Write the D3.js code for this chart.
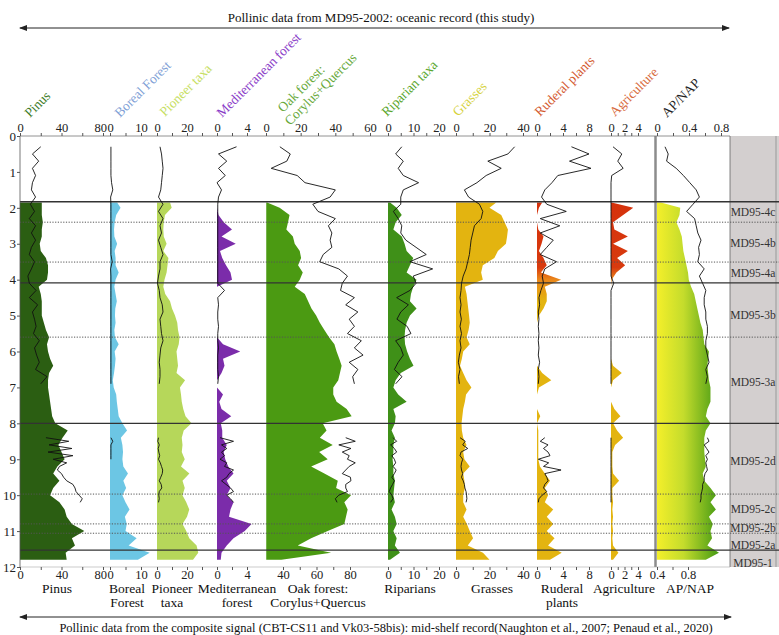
<!DOCTYPE html>
<html>
<head>
<meta charset="utf-8">
<script src="https://cdn.jsdelivr.net/npm/d3@7"></script>
<style>
  body { margin: 0; background: #fff; }
  svg { display: block; }
  text { font-family: "Liberation Serif", "DejaVu Serif", "Times New Roman", serif; }
</style>
</head>
<body>
<svg id="chart"></svg>
<script>
// depth axis (ka) and zones
const depthTicks = [0, 1, 2, 3, 4, 5, 6, 7, 8, 9, 10, 11, 12];
const zoneSolid = [1.83, 4.09, 8.0, 11.53];
const zoneDotted = [2.4, 3.51, 5.6, 9.97, 10.8, 11.06];
const zoneNames = ["MD95-4c", "MD95-4b", "MD95-4a", "MD95-3b", "MD95-3a", "MD95-2d", "MD95-2c", "MD95-2b", "MD95-2a", "MD95-1"];
const zoneLabelDepth = [2.12, 2.98, 3.82, 4.99, 6.85, 9.05, 10.39, 10.92, 11.39, 11.89];

// composite (mid-shelf) record: filled curves
const shelfDepth = [1.85, 2.0, 2.2, 2.4, 2.6, 2.8, 3.0, 3.2, 3.4, 3.6, 3.8, 4.0, 4.2, 4.4, 4.6, 4.8, 5.0, 5.2, 5.4, 5.6,
  5.8, 6.0, 6.2, 6.4, 6.6, 6.8, 7.0, 7.2, 7.4, 7.6, 7.8, 8.0, 8.2, 8.4, 8.6, 8.8, 9.0, 9.2, 9.4, 9.6,
  9.8, 10.0, 10.2, 10.4, 10.6, 10.8, 11.0, 11.2, 11.4, 11.6, 11.8];
const pinusShelf = [21, 21, 21, 22, 21, 21, 19, 20, 25, 27, 27, 26, 18, 20, 21, 21, 21, 23, 25, 28,
  26, 27, 29, 32, 28, 27, 27, 28, 29, 30, 31, 34, 46, 41, 37, 40, 43, 36, 32, 38,
  32, 29, 38, 43, 45, 50, 62, 50, 53, 44, 45];
const borealShelf = [2.3, 3.4, 2.0, 1.5, 1.3, 1.4, 2.3, 1.5, 1.8, 1.8, 2.8, 1.8, 1.4, 1.8, 2.2, 1.7, 1.6, 1.8, 1.4, 1.6,
  2.8, 1.5, 1.8, 1.6, 1.3, 0.9, 1.2, 2.0, 2.2, 2.5, 2.8, 4.0, 5.5, 3.5, 4.0, 4.2, 4.0, 4.3, 5.8, 4.3,
  5.2, 4.0, 5.0, 6.3, 4.8, 5.4, 5.0, 8.6, 6.0, 12.8, 9.0];
const pioneerShelf = [8.7, 9.8, 5.3, 4.5, 4.2, 4.5, 6.4, 4.2, 7.6, 7.0, 6.4, 5.0, 4.2, 5.5, 8.7, 10, 12, 13.5, 14, 15,
  14.5, 13, 13.5, 14, 13, 18.7, 15.3, 16, 16.5, 17.5, 19, 23, 17.8, 16.5, 17, 16.5, 18.5, 16, 21.6, 17,
  18.5, 17, 19.5, 21.5, 20, 17, 19.5, 21.5, 26.4, 27.5, 24];
const medShelf = [0, 0, 0.2, 0.9, 2.0, 0.6, 2.5, 0.4, 0.7, 1.2, 1.8, 2.0, 0, 0, 0, 0, 0, 0, 0, 0,
  0.8, 3.1, 0.8, 1.0, 0.6, 0, 0, 0.8, 0.3, 0.6, 1.9, 0.5, 0.7, 0.7, 1.3, 0.9, 1.1, 1.5, 2.2, 1.3,
  1.8, 1.3, 2.2, 1.8, 1.6, 4.6, 3.7, 2.2, 1.3, 0.6, 0.5];
const oakShelf = [30.5, 38, 43.9, 43, 42, 45.9, 47, 50, 50.8, 49, 51.8, 50, 47, 53, 55, 57, 59.8, 62, 64.7, 67.5,
  70.7, 72, 73.6, 75, 74, 73, 70, 70, 72, 78, 81, 63.7, 66, 62, 69.7, 61.6, 66.7, 56.8, 64.7, 72.7,
  71.7, 80.6, 76.6, 78.6, 77.6, 76.6, 66.7, 56.8, 48.8, 68.7, 39];
const ripShelf = [0.8, 3.4, 5.4, 3.0, 2.1, 5.4, 6.5, 7.3, 9.9, 8.6, 7.3, 11.2, 9.9, 9.0, 8.6, 11.2, 8.6, 7.3, 6.7, 6.5,
  6.7, 7.5, 8.6, 10, 5, 3.0, 2.1, 4, 7.3, 2.1, 3.0, 2.7, 1.4, 2.7, 2.1, 2.1, 1.8, 2.1, 2.1, 2.7,
  2.4, 2.1, 2.7, 1.4, 2.7, 3.4, 2.1, 3.4, 2.7, 4.7, 0.8];
const grassShelf = [24, 20, 27, 29, 31, 30.5, 29.8, 25, 22.9, 16, 15, 16, 5.3, 6.3, 6.8, 7.3, 7.8, 8.2, 7.5, 6.3,
  8.2, 4.3, 3.5, 2.4, 4.3, 6.3, 9.2, 6, 5.3, 4.3, 3.8, 3.3, 3.5, 4.3, 6.3, 4.3, 5.0, 8.2, 4.3, 5.0,
  5.3, 4.3, 4.3, 6.3, 4.3, 6.5, 8.2, 10.2, 7, 16.1, 20];
const rudShelf = [0.8, 0.3, 0, 0, 0.2, 1.0, 0.7, 0.3, 1.0, 1.5, 0.6, 3.7, 1.2, 1.5, 1.5, 1.0, 0.3, 0, 0, 0,
  0, 0, 0, 0, 0.8, 2.2, 0.3, 0, 0, 0, 0.5, 0, 0.2, 0.2, 0.2, 0.2, 0.2, 0.45, 1.2, 2.0,
  1.2, 1.7, 1.2, 2.5, 1.5, 2.5, 1.5, 2.7, 1.7, 3.8, 2.0];
const agrShelf = [0.1, 3.3, 1.8, 0.3, 0.5, 2.5, 0.3, 2.5, 0.9, 2.1, 0.8, 0.1, 0, 0, 0, 0, 0, 0, 0, 0,
  0, 0, 0, 0.3, 1.6, 0.3, 0, 0, 0, 0.5, 1.4, 0.3, 0.9, 1.8, 0.6, 0.2, 0.2, 0.2, 0.3, 1.2,
  0.2, 0.2, 0.3, 0.2, 0.3, 0.2, 0.3, 0.2, 0.3, 1.1, 0.3];
const apShelf = [0.45, 0.7, 0.69, 0.65, 0.69, 0.72, 0.73, 0.74, 0.76, 0.78, 0.8, 0.81, 0.84, 0.88, 0.9, 0.92, 0.94, 0.96, 0.99, 1.0,
  1.01, 1.07, 1.06, 1.05, 1.06, 1.07, 1.09, 1.09, 1.09, 1.05, 1.03, 1.09, 1.03, 1.01, 1.01, 1.01, 1.02, 1.03, 0.99, 1.01,
  1.09, 1.16, 1.09, 1.16, 1.07, 1.12, 1.09, 1.11, 1.05, 1.2, 1.03];

// MD95-2002 oceanic record: black curves (null = no samples)
const oceanDepth = [0.3, 0.5, 0.7, 0.9, 1.1, 1.3, 1.5, 1.7, 1.9, 2.1, 2.3, 2.5, 2.7, 2.9, 3.1, 3.3, 3.5, 3.7, 3.9, 4.1,
  4.3, 4.5, 4.7, 4.9, 5.1, 5.3, 5.5, 5.7, 5.9, 6.1, 6.3, 6.5, 6.7, 6.9, 7.7,
  8.4, 8.5, 8.6, 8.7, 8.8, 8.9, 9.0, 9.1, 9.2, 9.3, 9.4, 9.5, 9.6, 9.7, 9.8, 9.9, 10.0, 10.1, 10.2];
const pinusOcean = [20, 12, 18, 12, 15, 12, 11, 15, 10, 14, 9, 15, 11, 15, 11, 9, 14, 11, 7.6, 9,
  15.5, 9, 17, 12, 14, 15.5, 13, 18.6, 14, 16, 18.6, 15, 26, 20, null,
  25, 47, 28, 50, 27, 51, 32, 45, 38, 36, 40, 42, 45, 51, 53, 54, 57, 60, 58];
const borealOcean = [0.3, 0.3, 0.3, 0.3, 0.3, 0.5, 0.9, 0.2, 0.3, 0.3, 0.3, 0.3, 0.3, 0.3, 0.3, 0.3, 0.7, 0.2, 0.3, 0.3,
  0.3, 0.3, 0.3, 0.3, 0.3, 0.3, 0.3, 0.3, 0.3, 0.3, 0.3, 0.3, 0.3, 0.3, null,
  0.3, 0.9, 0.3, 0.3, 0.3, 0.3, 0.3, null, null, null, null, null, null, null, null, null, null, null, null];
const pioneerOcean = [2, 3, 3.5, 4, 3.5, 3, 2.5, 1, 4, 1, 4, 2, 3, 1, 2.5, 4, 2, 2, 1, 0.3,
  1.5, 2, 3.5, 4, 2, 2.5, 3, 4, 2.5, 2, 1.5, 2, 2, 1.5, null,
  1, 0.5, 1.5, 0.8, 1.2, 1.8, 1, 2.2, 3, 3.8, 3.5, 2.5, 1.5, 2.8, 3.2, 1.5, 1.2, 1.5, 1];
const medOcean = [2.6, 0.2, 1.3, 0.2, 1.1, 0, 0.6, 0.2, 0.1, 0.1, 0.1, 0.1, 0.1, 0.1, 0.1, 0.1, 0.1, 0.1, 0.1, 0.1,
  1.0, 0.1, 0.2, 0.1, 0.1, 0.2, 0.1, 0.1, 0.2, 0.1, 0.1, 0.1, 0.2, 0.1, null,
  0.4, 2.2, 0.6, 1.3, 0.6, 1.0, 0.4, 1.3, 1.0, 2.2, 1.6, 1.3, 0.6, 1.2, 1.8, 2.2, 1.3, 1.8, 2.2];
const oakOcean = [8, 14, 12, 3, 18, 22.5, 40, 37, 27, 30, 40, 36, 38, 37, 38, 33, 31, 42, 47, 44,
  43, 51, 46, 53, 48, 51, 47, 55, 51, 56, 48, 53, 50, 51, null,
  46, 51.5, 42, 49, 44, 48, 47, 51.5, 48, 46, 44, 48.7, 49, 46, 46, 47, 42, 40, 41];
const ripOcean = [5.4, 3, 6, 4, 6, 12, 6, 5, 5, 2.1, 4, 5.4, 5, 7, 11, 15, 8.6, 17.5, 9.9, 11,
  8.6, 3.4, 8, 5, 3.5, 7.5, 9, 3, 5, 6, 4, 2.5, 5.5, 3, null,
  2, 3.4, 1, 2.5, 3.4, 1.5, 2.5, 3, 2, 3.2, 2.5, 1.5, 2.5, 1.8, 1, 0.5, 1.5, 2, 1];
const grassOcean = [35, 31, 19, 27, 18, 12.5, 5, 7.5, 14, 16, 15, 11, 10, 9, 8.5, 8, 7, 6, 4.3, 3.3,
  3, 2.4, 3, 2.4, 3.2, 2.4, 3.3, 2.4, 3, 2, 1.4, 2.4, 1.5, 2, null,
  2.4, 5.5, 4, 7, 3, 2.4, 4, 3.3, 3, 3.3, 4, 3.3, 4.3, 5, 5.3, 6, 6.3, 6.5, 6];
const rudOcean = [5.3, 8, 5, 8.3, 3.2, 2.3, 1.2, 0.7, 1.5, 4.5, 0.5, 3.5, 0.5, 2.5, 1.5, 0.5, 3, 1.2, 0.8, 1.0,
  0.6, 0.3, 0.4, 0.2, 0.3, 0.2, 0.3, 0.2, 0.3, 0.2, 0.4, 0.2, 0.3, 0.2, null,
  1.2, 0.5, 1.7, 1.0, 1.7, 2.0, 0.2, 1.8, 1.0, 3.7, 1.2, 1.5, 1.7, 1.2, 1.0, 1.5, 0.8, 0.3, 0.2];
const agrOcean = [0.3, 1.6, 1.0, 1.8, 0.1, 0, 0, 0, 0, 0, 0, 0, 0, 0, 0, 0, 0, 0, 0, 0.4,
  0, 0, 0, 0, 0, 0, 0, 0, 0, 0, 0, 0, 0, 0, null,
  0, 0, 0, 0, 0, 0, 0, 0, 0, 0, 0, 0, 0, 0, 0, 0, 0, 0, 0];
const apOcean = [0.1, 0.14, 0.12, 0.24, 0.33, 0.41, 0.49, 0.53, 0.45, 0.37, 0.47, 0.49, 0.51, 0.55, 0.52, 0.53, 0.51, 0.59, 0.53, 0.57,
  0.61, 0.59, 0.59, 0.61, 0.61, 0.63, 0.63, 0.61, 0.61, 0.63, 0.65, 0.61, 0.63, 0.61, null,
  0.63, 0.65, 0.59, 0.62, 0.65, 0.61, 0.63, 0.61, 0.62, 0.63, 0.6, 0.59, 0.59, 0.57, 0.57, 0.56, 0.55, 0.55, 0.54];

const width = 779, height = 635;
const svg = d3.select("#chart").attr("width", width).attr("height", height);
const y = d3.scaleLinear().domain([0, 12]).range([136, 567]);

// panel layout: top scale = black curve, bottom scale = filled curve
const panels = [
  { top: [0, 80], tr: [20, 103], tt: [0, 20, 40, 60, 80], tl: [0, 40, 80], bot: [0, 80], br: [20, 103], bt: [0, 20, 40, 60, 80], bl: [0, 40, 80], base: 0,
    shelf: pinusShelf, ocean: pinusOcean, fill: "#2b5e12", title: ["Pinus"], tcol: "#3b7a26", tpos: [[30, 118]], label: ["Pinus"], lx: 57 },
  { top: [0, 10], tr: [110, 141], tt: [0, 5, 10], tl: [0, 10], bot: [0, 10], br: [110, 141], bt: [0, 5, 10], bl: [0, 10], base: 0,
    shelf: borealShelf, ocean: borealOcean, fill: "#6cc6e4", title: ["Boreal Forest"], tcol: "#7f9fd6", tpos: [[120, 118]], label: ["Boreal", "Forest"], lx: 127 },
  { top: [0, 20], tr: [157, 187], tt: [0, 10, 20, 30], tl: [0, 20], bot: [0, 20], br: [157, 187], bt: [0, 10, 20, 30], bl: [0, 20], base: 0,
    shelf: pioneerShelf, ocean: pioneerOcean, fill: "#b6d75a", title: ["Pioneer taxa"], tcol: "#c6de62", tpos: [[165, 117]], label: ["Pioneer", "taxa"], lx: 172 },
  { top: [0, 4], tr: [217, 247], tt: [0, 2, 4], tl: [0, 4], bot: [0, 4], br: [217, 247], bt: [0, 2, 4], bl: [0, 4], base: 0,
    shelf: medShelf, ocean: medOcean, fill: "#7b2caa", title: ["Mediterranean forest"], tcol: "#8a3cc8", tpos: [[222, 118]], label: ["Mediterranean", "forest"], lx: 237 },
  { top: [0, 60], tr: [266, 370], tt: [0, 10, 20, 30, 40, 50, 60], tl: [0, 20, 40, 60], bot: [40, 80], br: [283, 350], bt: [40, 50, 60, 70, 80], bl: [40, 60, 80], base: 30,
    shelf: oakShelf, ocean: oakOcean, fill: "#4b9a12", title: ["Oak forest:", "Corylus+Quercus"], tcol: "#67a83a", tpos: [[283, 113], [290, 126]], label: ["Oak forest:", "Corylus+Quercus"], lx: 318 },
  { top: [0, 20], tr: [388, 439], tt: [0, 5, 10, 15, 20], tl: [0, 10, 20], bot: [0, 20], br: [388, 439], bt: [0, 5, 10, 15, 20], bl: [0, 10, 20], base: 0,
    shelf: ripShelf, ocean: ripOcean, fill: "#3f9018", title: ["Riparian taxa"], tcol: "#5aa62c", tpos: [[387, 117]], label: ["Riparians"], lx: 410 },
  { top: [0, 40], tr: [456, 523], tt: [0, 10, 20, 30, 40], tl: [0, 20, 40], bot: [0, 40], br: [456, 523], bt: [0, 10, 20, 30, 40], bl: [0, 20, 40], base: 0,
    shelf: grassShelf, ocean: grassOcean, fill: "#e3b410", title: ["Grasses"], tcol: "#d6d23c", tpos: [[458, 117]], label: ["Grasses"], lx: 492 },
  { top: [0, 8], tr: [537, 589], tt: [0, 2, 4, 6, 8], tl: [0, 4, 8], bot: [0, 8], br: [537, 589], bt: [0, 2, 4, 6, 8], bl: [0, 4, 8], base: 0,
    shelf: rudShelf, ocean: rudOcean, fill: "url(#redGold)", title: ["Ruderal plants"], tcol: "#d45a30", tpos: [[540, 117]], label: ["Ruderal", "plants"], lx: 562 },
  { top: [0, 4], tr: [611, 638], tt: [0, 1, 2, 3, 4], tl: [0, 2, 4], bot: [0, 4], br: [611, 638], bt: [0, 1, 2, 3, 4], bl: [0, 2, 4], base: 0,
    shelf: agrShelf, ocean: agrOcean, fill: "url(#redGold)", title: ["Agriculture"], tcol: "#d86a3c", tpos: [[615, 117]], label: ["Agriculture"], lx: 624 },
  { top: [0, 0.8], tr: [657, 721], tt: [0, 0.2, 0.4, 0.6, 0.8], tl: [0, 0.4, 0.8], bot: [0.4, 0.8], br: [657, 688], bt: [0.4, 0.6, 0.8], bl: [0.4, 0.8], base: 0.4,
    shelf: apShelf, ocean: apOcean, fill: "url(#apGrad)", title: ["AP/NAP"], tcol: "#222", tpos: [[667, 118]], label: ["AP/NAP"], lx: 690 }
];
panels.forEach(p => {
  p.xt = d3.scaleLinear().domain(p.top).range(p.tr);
  p.xb = d3.scaleLinear().domain(p.bot).range(p.br);
});

// gradients and arrow marker
const defs = svg.append("defs");
const rg = defs.append("linearGradient").attr("id", "redGold").attr("gradientUnits", "userSpaceOnUse")
  .attr("x1", 0).attr("x2", 0).attr("y1", y(1.83)).attr("y2", y(4.6));
rg.selectAll("stop").data([[0, "#d5320c"], [0.66, "#d83a0e"], [0.78, "#ea861a"], [1, "#e3b410"]])
  .enter().append("stop").attr("offset", d => d[0]).attr("stop-color", d => d[1]);
const ag = defs.append("linearGradient").attr("id", "apGrad").attr("gradientUnits", "userSpaceOnUse")
  .attr("x1", 657).attr("x2", 716).attr("y1", 0).attr("y2", 0);
ag.selectAll("stop").data([[0, "#f4ef2a"], [0.45, "#c4dc2c"], [1, "#4f9f16"]])
  .enter().append("stop").attr("offset", d => d[0]).attr("stop-color", d => d[1]);
defs.append("marker").attr("id", "arr").attr("viewBox", "0 0 8 6").attr("refX", 7).attr("refY", 3)
  .attr("markerWidth", 8).attr("markerHeight", 6).attr("markerUnits", "userSpaceOnUse")
  .attr("orient", "auto-start-reverse")
  .append("path").attr("d", "M0,0L8,3L0,6Z").attr("fill", "#222");

// zone column
svg.append("rect").attr("x", 730).attr("y", y(0)).attr("width", 49).attr("height", y(12) - y(0)).attr("fill", "#d3cfcf");
svg.append("line").attr("x1", 776).attr("x2", 776).attr("y1", y(0)).attr("y2", y(12)).attr("stroke", "#999").attr("stroke-width", 1);
svg.append("line").attr("x1", 730).attr("x2", 730).attr("y1", y(0)).attr("y2", y(12)).attr("stroke", "#666").attr("stroke-width", 0.8);

// filled curves
panels.forEach(p => {
  const area = d3.area()
    .y((v, i) => y(shelfDepth[i]))
    .x0(p.xb(p.base))
    .x1(v => p.xb(v));
  svg.append("path").datum(p.shelf).attr("d", area).attr("fill", p.fill);
});

// AP/NAP separator
svg.append("line").attr("x1", 655.5).attr("x2", 655.5).attr("y1", y(0)).attr("y2", y(12))
  .attr("stroke", "#8c8c8c").attr("stroke-width", 2.5);

// zone boundaries
svg.selectAll(".solid").data(zoneSolid).enter().append("line")
  .attr("x1", 20).attr("x2", 779).attr("y1", d => y(d)).attr("y2", d => y(d))
  .attr("stroke", "#333").attr("stroke-width", 1.3);
svg.selectAll(".dotted").data(zoneDotted).enter().append("line")
  .attr("x1", 20).attr("x2", 779).attr("y1", d => y(d)).attr("y2", d => y(d))
  .attr("stroke", "#555").attr("stroke-width", 1).attr("stroke-dasharray", "1.2,1.5");

// black curves
panels.forEach(p => {
  const line = d3.line()
    .defined(v => v != null)
    .x(v => p.xt(v))
    .y((v, i) => y(oceanDepth[i]));
  svg.append("path").datum(p.ocean).attr("d", line)
    .attr("fill", "none").attr("stroke", "#111").attr("stroke-width", 0.9);
});

// zone labels
svg.selectAll(".zone").data(zoneNames).enter().append("text")
  .attr("x", 753).attr("y", (d, i) => y(zoneLabelDepth[i]))
  .attr("text-anchor", "middle").attr("dominant-baseline", "central")
  .attr("font-size", 11.5).attr("fill", "#333").text(d => d);

// depth axis
svg.append("line").attr("x1", 20).attr("x2", 20).attr("y1", y(0)).attr("y2", y(12)).attr("stroke", "#555").attr("stroke-width", 0.8);
const yAxis = svg.append("g").attr("transform", "translate(20,0)")
  .call(d3.axisLeft(y).tickValues(depthTicks).tickSize(3).tickPadding(1).tickFormat(d3.format("d")));
yAxis.select(".domain").remove();
yAxis.selectAll("text").attr("font-size", 13).attr("fill", "#222");
yAxis.selectAll("line").attr("stroke", "#555");

// top and bottom value axes
svg.append("line").attr("x1", 20).attr("x2", 730).attr("y1", 136).attr("y2", 136).attr("stroke", "#777").attr("stroke-width", 0.8);
svg.append("line").attr("x1", 20).attr("x2", 730).attr("y1", 567).attr("y2", 567).attr("stroke", "#aaa").attr("stroke-width", 0.6);
panels.forEach((p, pi) => {
  const gt = svg.append("g").attr("transform", "translate(0,136)")
    .call(d3.axisTop(p.xt).tickValues(p.tt).tickSize(3).tickPadding(1)
      .tickFormat(v => p.tl.includes(v) ? String(v) : ""));
  const gb = svg.append("g").attr("transform", "translate(0,567)")
    .call(d3.axisBottom(p.xb).tickValues(p.bt).tickSize(3).tickPadding(0)
      .tickFormat(v => p.bl.includes(v) ? String(v) : ""));
  [gt, gb].forEach(g => {
    g.select(".domain").remove();
    g.selectAll("line").attr("stroke", "#555");
    g.selectAll("text").attr("font-size", 12.5).attr("fill", "#222");
    // "80" of Pinus and "0" of Boreal sit side by side, reading as "800"
    if (pi === 0) g.selectAll("text").filter(v => v === 80).attr("text-anchor", "end").attr("x", 3.5);
    if (pi === 1) g.selectAll("text").filter(v => v === 0).attr("text-anchor", "start").attr("x", -3);
  });
});

// rotated taxon titles and bottom names
panels.forEach(p => {
  p.title.forEach((t, k) => {
    svg.append("text")
      .attr("transform", `translate(${p.tpos[k][0]},${p.tpos[k][1]}) rotate(-45)`)
      .attr("font-size", 13.5).attr("fill", p.tcol).text(t);
  });
  p.label.forEach((t, k) => {
    svg.append("text").attr("x", p.lx).attr("y", 593 + k * 14)
      .attr("text-anchor", "middle").attr("font-size", 13.5).attr("fill", "#111").text(t);
  });
});

// record headers with arrows
svg.append("line").attr("x1", 20).attr("x2", 729).attr("y1", 28).attr("y2", 28)
  .attr("stroke", "#222").attr("stroke-width", 1)
  .attr("marker-start", "url(#arr)").attr("marker-end", "url(#arr)");
svg.append("text").attr("x", 381).attr("y", 22).attr("text-anchor", "middle")
  .attr("font-size", 13).attr("fill", "#111")
  .text("Pollinic data from MD95-2002: oceanic record (this study)");
svg.append("line").attr("x1", 20).attr("x2", 731).attr("y1", 617).attr("y2", 617)
  .attr("stroke", "#222").attr("stroke-width", 1)
  .attr("marker-start", "url(#arr)").attr("marker-end", "url(#arr)");
svg.append("text").attr("x", 386).attr("y", 632).attr("text-anchor", "middle")
  .attr("font-size", 12.5).attr("fill", "#111")
  .text("Pollinic data from the composite signal (CBT-CS11 and Vk03-58bis): mid-shelf record(Naughton et al., 2007; Penaud et al., 2020)");
</script>
</body>
</html>
